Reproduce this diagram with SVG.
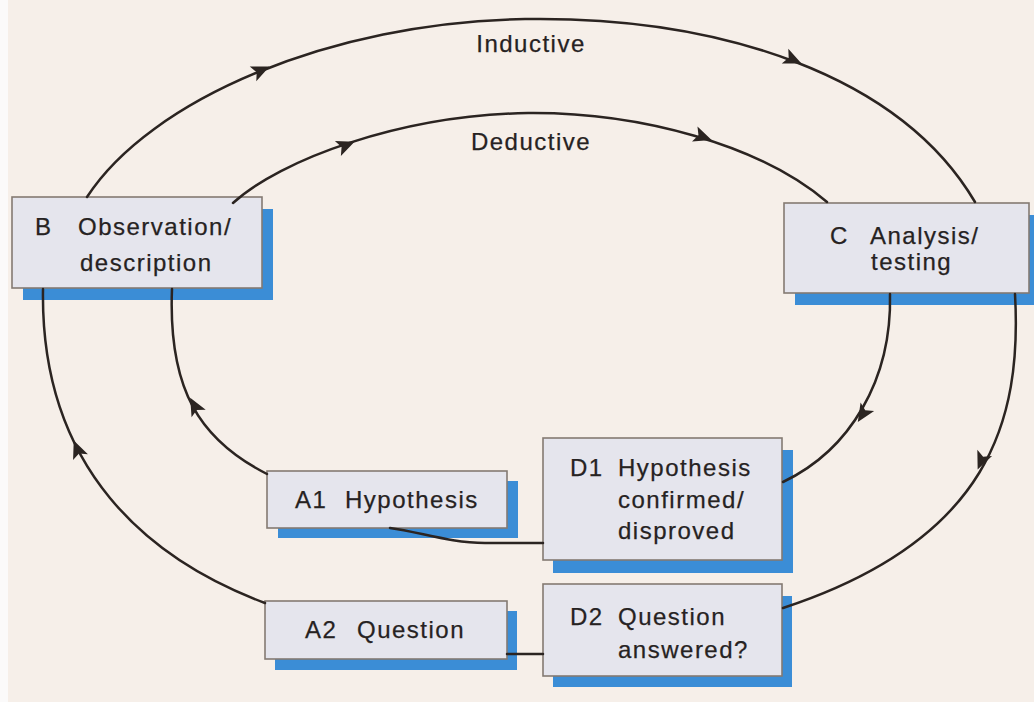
<svg xmlns="http://www.w3.org/2000/svg" xmlns:xlink="http://www.w3.org/1999/xlink" width="1034" height="702" viewBox="0 0 1034 702">
<style>
.bg{fill:#f6efe9}
.box{fill:#e5e5ed;stroke:#847a72;stroke-width:1.6}
.sh{fill:#3b8dd6}
.t{font-family:"Liberation Sans",Arial,sans-serif;font-size:24px;letter-spacing:1.5px;fill:#262222;stroke:#262222;stroke-width:0.25}
.c{fill:none;stroke:#2b2421;stroke-width:2.5;stroke-linecap:round}
.ah{fill:#2b2421}
</style>
<defs>
<path id="ah" d="M6,0 L-12,-8 L-8,0 L-12,8 Z"/>
</defs>
<rect class="bg" x="0" y="0" width="1034" height="702"/>
<rect x="0" y="0" width="8" height="702" fill="#fbfafa"/>

<g id="node-B">
<rect class="sh" x="23" y="209" width="250" height="91"/>
<rect class="box" x="12" y="197" width="250" height="91"/>
<text class="t" x="35" y="235">B</text>
<text class="t" x="78" y="235">Observation/</text>
<text class="t" x="80" y="271">description</text>
</g>
<g id="node-C">
<rect class="sh" x="795" y="215" width="245" height="90"/>
<rect class="box" x="784" y="203" width="245" height="90"/>
<text class="t" x="830" y="244">C</text>
<text class="t" x="870" y="244">Analysis/</text>
<text class="t" x="871" y="270">testing</text>
</g>
<g id="node-A1">
<rect class="sh" x="278" y="481" width="240" height="57"/>
<rect class="box" x="267" y="471" width="240" height="57"/>
<text class="t" x="295" y="508">A1</text>
<text class="t" x="345" y="508">Hypothesis</text>
</g>
<g id="node-D1">
<rect class="sh" x="553" y="450" width="240" height="123"/>
<rect class="box" x="543" y="438" width="239" height="122"/>
<text class="t" x="570" y="476">D1</text>
<text class="t" x="618" y="476">Hypothesis</text>
<text class="t" x="618" y="508">confirmed/</text>
<text class="t" x="618" y="539">disproved</text>
</g>
<g id="node-A2">
<rect class="sh" x="275" y="611" width="242" height="59"/>
<rect class="box" x="265" y="601" width="242" height="58"/>
<text class="t" x="305" y="638">A2</text>
<text class="t" x="357" y="638">Question</text>
</g>
<g id="node-D2">
<rect class="sh" x="553" y="596" width="239" height="91"/>
<rect class="box" x="543" y="584" width="239" height="92"/>
<text class="t" x="570" y="625">D2</text>
<text class="t" x="618" y="625">Question</text>
<text class="t" x="618" y="658">answered?</text>
</g>

<g id="connectors">
<path class="c" d="M265,603 C150,560 40,470 43,289"/>
<path class="c" d="M87,197 C150,100 330,22 525,19 C720,16 900,75 975,202"/>
<path class="c" d="M1015,294 C1022,420 990,540 783,608"/>
<path class="c" d="M543,654 L507,654"/>
<path class="c" d="M267,474 C200,440 168,390 172,289"/>
<path class="c" d="M233,203 C280,160 400,115 528,113 C640,112 760,145 827,202"/>
<path class="c" d="M890,294 C892,380 850,450 783,482"/>
<path class="c" d="M543,543 L485,543 C450,543 420,532 390,528"/>
<use class="ah" xlink:href="#ah" transform="translate(264,69) rotate(-24)"/>
<use class="ah" xlink:href="#ah" transform="translate(796,61) rotate(24)"/>
<use class="ah" xlink:href="#ah" transform="translate(349,144) rotate(-22)"/>
<use class="ah" xlink:href="#ah" transform="translate(706,138) rotate(20)"/>
<use class="ah" xlink:href="#ah" transform="translate(861,417) rotate(122)"/>
<use class="ah" xlink:href="#ah" transform="translate(980,464) rotate(113)"/>
<use class="ah" xlink:href="#ah" transform="translate(76,446) rotate(-112)"/>
<use class="ah" xlink:href="#ah" transform="translate(193,403) rotate(-118)"/>
</g>

<text class="t" x="531" y="52" text-anchor="middle">Inductive</text>
<text class="t" x="531" y="150" text-anchor="middle">Deductive</text>
</svg>
